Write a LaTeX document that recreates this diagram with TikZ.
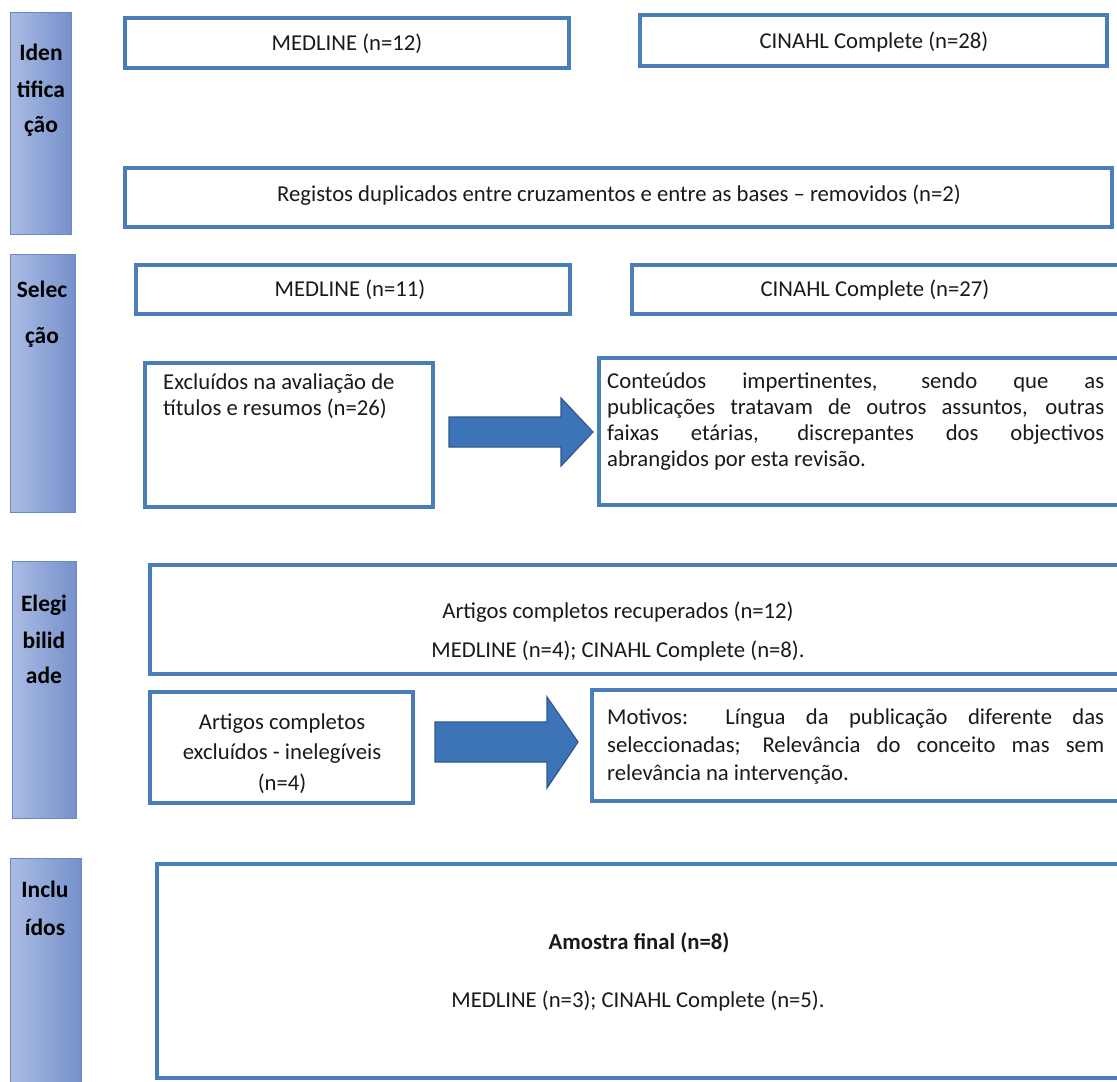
\documentclass[tikz,border=0pt]{standalone}
\usepackage{fontspec}
\setmainfont{Carlito}
\usetikzlibrary{fit}
\definecolor{boxblue}{HTML}{4A7EBB}
\definecolor{arrfill}{HTML}{3D74B7}
\definecolor{arrline}{HTML}{2B5A90}
\definecolor{stagel}{HTML}{AABDE5}
\definecolor{stager}{HTML}{7690CA}
\definecolor{stageline}{HTML}{6A88C4}
\definecolor{txt}{HTML}{1A1A1A}
\begin{document}
\begin{tikzpicture}[x=1pt,y=-1pt,
  flowbox/.style={draw=boxblue, line width=4.8pt, fill=white, inner sep=0pt},
  stagebar/.style={draw=stageline, line width=0.8pt, left color=stagel, right color=stager, inner sep=0pt},
  stagetext/.style={font=\fontsize{23.5}{26}\selectfont\bfseries, text=black, anchor=base, inner sep=0pt},
  body/.style={font=\fontsize{22.7}{26}\selectfont, text=txt, anchor=base, inner sep=0pt},
  bodyl/.style={body, anchor=base west},
  blockarrow/.style={fill=arrfill, draw=arrline, line width=1.2pt, line join=miter}]
\useasboundingbox (0,0) rectangle (1117,1082);
\clip (0,0) rectangle (1117,1082);
\fill[white] (0,0) rectangle (1117,1082);

% ---- stage bars ----
\node[stagebar, fit={(10,12) (71,234)}] (sid) {};
\node[stagetext] (sid1) at (41,60) {Iden};
\node[stagetext] (sid2) at (41,97) {tifica};
\node[stagetext] (sid3) at (41,132) {ção};

\node[stagebar, fit={(10,254) (75,512)}] (ssel) {};
\node[stagetext] (ssel1) at (42,297) {Selec};
\node[stagetext] (ssel2) at (42,343) {ção};

\node[stagebar, fit={(12,561) (76,818)}] (sel) {};
\node[stagetext] (sel1) at (44,611) {Elegi};
\node[stagetext] (sel2) at (44,648) {bilid};
\node[stagetext] (sel3) at (44,683) {ade};

\node[stagebar, fit={(10,858) (81,1095)}] (sinc) {};
\node[stagetext] (sinc1) at (45,897) {Inclu};
\node[stagetext] (sinc2) at (45,935) {ídos};

% ---- identification ----
\node[flowbox, fit={(125,18) (569,68)}] (m12) {};
\node[body] (m12t) at (347,50) {MEDLINE (n=12)};
\node[flowbox, fit={(640,15) (1107,66)}] (c28) {};
\node[body] (c28t) at (874,48) {CINAHL Complete (n=28)};
\node[flowbox, fit={(125,168) (1112,227)}] (reg) {};
\node[body] (regt) at (619,201) {Registos duplicados entre cruzamentos e entre as bases – removidos (n=2)};

% ---- selection ----
\node[flowbox, fit={(136,265) (570,314)}] (m11) {};
\node[body] (m11t) at (350,296) {MEDLINE (n=11)};
\node[flowbox, fit={(632,265) (1130,314)}] (c27) {};
\node[body] (c27t) at (875,296) {CINAHL Complete (n=27)};

\node[flowbox, fit={(145,363) (433,507)}] (exc) {};
\node[bodyl] (exc1) at (163,389) {Excluídos na avaliação de};
\node[bodyl] (exc2) at (163,415) {títulos e resumos (n=26)};

\node[flowbox, fit={(599,358) (1130,505)}] (cont) {};
\node[bodyl] (cont1) at (607,388) {\makebox[497pt][s]{Conteúdos impertinentes, sendo que as}};
\node[bodyl] (cont2) at (607,414) {\makebox[497pt][s]{publicações tratavam de outros assuntos, outras}};
\node[bodyl] (cont3) at (607,440) {\makebox[497pt][s]{faixas etárias, discrepantes dos objectivos}};
\node[bodyl] (cont4) at (607,466) {abrangidos por esta revisão.};

\coordinate (a1s) at (449,432);
\coordinate (a1e) at (593,432);
\filldraw[blockarrow] (a1s) ++(0,-15) -- ++(112,0) -- ++(0,-19) -- (a1e) -- ++(-32,34) -- ++(0,-19) -- ++(-112,0) -- cycle;

% ---- eligibility ----
\node[flowbox, fit={(150,565) (1130,674)}] (art) {};
\node[body] (art1) at (618,618) {Artigos completos recuperados (n=12)};
\node[body] (art2) at (618,657) {MEDLINE (n=4); CINAHL Complete (n=8).};

\node[flowbox, fit={(150,692) (413,803)}] (aexc) {};
\node[body] (aexc1) at (282,729) {Artigos completos};
\node[body] (aexc2) at (282,759) {excluídos - inelegíveis};
\node[body] (aexc3) at (282,790) {(n=4)};

\node[flowbox, fit={(592,690) (1130,801)}] (mot) {};
\node[bodyl] (mot1) at (607,724) {\makebox[497pt][s]{Motivos: Língua da publicação diferente das}};
\node[bodyl] (mot2) at (607,752) {\makebox[497pt][s]{seleccionadas; Relevância do conceito mas sem}};
\node[bodyl] (mot3) at (607,780) {relevância na intervenção.};

\coordinate (a2s) at (435,742);
\coordinate (a2e) at (578,742);
\filldraw[blockarrow] (a2s) ++(0,-20) -- ++(112,0) -- ++(0,-25) -- (a2e) -- ++(-31,46) -- ++(0,-26) -- ++(-112,0) -- cycle;

% ---- included ----
\node[flowbox, fit={(157,864) (1130,1078)}] (amo) {};
\node[body, font=\fontsize{22.7}{26}\selectfont\bfseries] (amo1) at (639,949) {Amostra final (n=8)};
\node[body] (amo2) at (638,1007) {MEDLINE (n=3); CINAHL Complete (n=5).};
\end{tikzpicture}
\end{document}
